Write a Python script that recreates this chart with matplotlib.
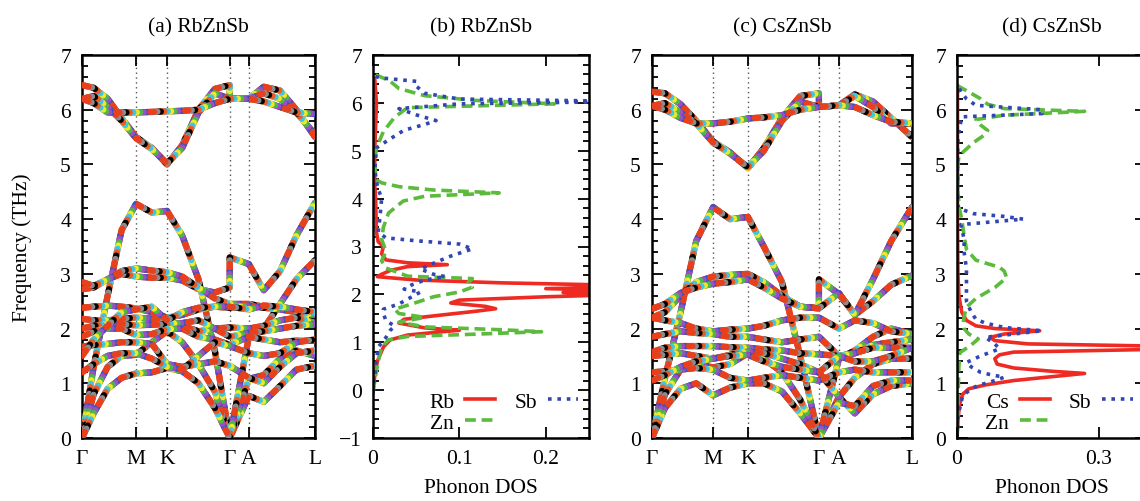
import numpy as np
import matplotlib.pyplot as plt
from matplotlib.ticker import MultipleLocator
from matplotlib.lines import Line2D

plt.rcParams['font.family'] = ['Liberation Serif', 'DejaVu Serif']
plt.rcParams['font.size'] = 15.5

# high-symmetry path
kpath_labels = ['Γ', 'M', 'K', 'Γ', 'A', 'L']
kpath_a = [0.0, 0.232, 0.365, 0.634, 0.716, 1.0]
kpath_c = [0.0, 0.235, 0.369, 0.642, 0.719, 1.0]

# sampled k positions (Γ listed twice: end of K-Γ, start of Γ-A)
k_a = [0.0, 0.05, 0.11, 0.17, 0.232, 0.30, 0.365, 0.43, 0.50, 0.57, 0.634, 0.634, 0.716, 0.78, 0.85, 0.92, 1.0]
k_c = [0.0, 0.05, 0.11, 0.17, 0.235, 0.30, 0.369, 0.43, 0.50, 0.57, 0.642, 0.642, 0.719, 0.78, 0.85, 0.92, 1.0]

# (a) RbZnSb phonon bands (THz)
bands_a = [
    [6.45, 6.40, 6.20, 5.85, 5.50, 5.30, 5.00, 5.35, 6.00, 6.38, 6.45, 6.20, 6.20, 6.42, 6.35, 6.00, 5.50],
    [6.20, 6.25, 6.05, 5.80, 5.48, 5.28, 5.02, 5.30, 5.95, 6.30, 6.20, 6.20, 6.20, 6.30, 6.20, 5.95, 5.55],
    [6.20, 6.12, 5.95, 5.95, 5.95, 5.96, 5.97, 5.98, 6.00, 6.12, 6.20, 6.20, 6.20, 6.15, 6.05, 5.95, 5.92],
    [0.00, 1.30, 2.60, 3.80, 4.28, 4.12, 4.15, 3.70, 2.90, 1.60, 0.00, 0.00, 0.77, 0.66, 0.95, 1.25, 1.32],
    [0.00, 0.80, 1.30, 1.50, 1.52, 1.75, 1.95, 1.75, 1.35, 0.85, 0.00, 0.00, 1.08, 1.15, 1.45, 1.60, 1.50],
    [0.00, 0.45, 0.90, 1.10, 1.18, 1.20, 1.28, 1.22, 1.00, 0.55, 0.00, 0.00, 1.85, 2.00, 2.45, 2.90, 3.25],
    [2.72, 2.75, 2.90, 3.00, 2.95, 2.93, 2.93, 2.88, 2.72, 2.66, 2.75, 3.30, 3.18, 2.70, 3.05, 3.70, 4.30],
    [2.85, 2.78, 2.90, 3.05, 3.10, 3.06, 3.03, 2.95, 2.75, 2.55, 2.45, 2.45, 2.45, 2.40, 2.38, 2.32, 2.27],
    [2.38, 2.40, 2.42, 2.40, 2.37, 2.30, 2.20, 2.25, 2.35, 2.40, 2.38, 2.38, 2.42, 2.38, 2.35, 2.30, 2.25],
    [2.18, 2.15, 2.15, 2.18, 2.20, 2.18, 2.15, 2.05, 1.95, 2.00, 2.02, 2.02, 2.00, 2.05, 2.15, 2.20, 2.10],
    [2.00, 2.05, 2.08, 2.08, 2.06, 2.07, 2.08, 2.10, 2.15, 2.00, 1.85, 1.85, 1.92, 1.95, 2.00, 2.05, 2.08],
    [1.85, 1.95, 2.00, 2.00, 1.88, 1.90, 1.99, 2.00, 1.85, 1.80, 1.70, 1.70, 1.85, 1.80, 1.75, 1.78, 1.78],
    [1.67, 1.70, 1.72, 1.75, 1.75, 1.72, 1.35, 1.30, 1.35, 1.40, 1.32, 1.32, 1.10, 1.00, 1.30, 1.55, 1.60],
    [1.20, 1.35, 1.50, 1.55, 1.55, 1.45, 1.30, 1.25, 1.50, 1.75, 1.68, 1.68, 1.55, 1.50, 1.55, 1.75, 1.80],
    [1.50, 1.80, 2.05, 2.30, 2.35, 2.40, 2.15, 2.30, 2.38, 2.40, 2.40, 2.40, 2.35, 2.42, 2.40, 2.35, 2.30],
]

# (c) CsZnSb phonon bands (THz)
bands_c = [
    [6.33, 6.30, 6.10, 5.80, 5.42, 5.22, 4.93, 5.30, 5.85, 6.25, 6.30, 6.05, 6.08, 6.28, 6.15, 5.85, 5.50],
    [6.07, 6.12, 5.95, 5.75, 5.40, 5.20, 4.95, 5.25, 5.80, 6.15, 6.05, 6.05, 6.08, 6.25, 6.05, 5.75, 5.75],
    [6.07, 6.00, 5.85, 5.75, 5.75, 5.78, 5.84, 5.86, 5.90, 6.00, 6.05, 6.05, 6.08, 6.05, 5.90, 5.78, 5.75],
    [0.00, 1.10, 2.30, 3.60, 4.22, 4.00, 4.04, 3.50, 2.85, 1.50, 0.00, 0.00, 0.75, 0.45, 0.80, 0.95, 1.00],
    [0.00, 0.55, 0.90, 1.00, 0.78, 0.92, 1.00, 1.00, 0.85, 0.45, 0.00, 0.00, 0.65, 0.58, 0.95, 1.05, 1.05],
    [0.00, 0.80, 1.25, 1.35, 1.29, 1.35, 1.55, 1.45, 1.20, 0.70, 0.00, 0.00, 1.45, 1.60, 1.85, 2.00, 1.90],
    [2.20, 2.30, 2.60, 2.85, 2.95, 2.98, 3.00, 2.85, 2.60, 2.40, 2.37, 2.90, 2.63, 2.25, 2.50, 2.80, 2.97],
    [2.36, 2.45, 2.65, 2.75, 2.82, 2.85, 2.90, 2.75, 2.55, 2.40, 2.37, 2.37, 2.65, 2.25, 2.90, 3.60, 4.22],
    [2.20, 2.15, 2.10, 2.00, 1.95, 1.98, 2.00, 2.05, 2.15, 2.20, 2.20, 2.20, 2.00, 2.15, 2.10, 1.95, 1.90],
    [1.85, 1.90, 1.95, 1.92, 1.90, 1.85, 1.85, 1.80, 1.75, 1.80, 1.85, 1.85, 1.50, 1.55, 1.70, 1.75, 1.80],
    [1.57, 1.65, 1.68, 1.68, 1.68, 1.66, 1.65, 1.62, 1.60, 1.55, 1.53, 1.53, 1.50, 1.55, 1.65, 1.65, 1.65],
    [1.50, 1.52, 1.55, 1.50, 1.45, 1.52, 1.58, 1.55, 1.45, 1.35, 1.20, 1.20, 0.75, 1.10, 1.35, 1.45, 1.45],
    [1.20, 1.22, 1.25, 1.28, 1.25, 1.10, 1.05, 1.10, 1.15, 1.10, 1.05, 1.05, 1.20, 1.25, 1.20, 1.20, 1.20],
    [1.05, 1.15, 1.30, 1.40, 1.45, 1.50, 1.52, 1.40, 1.30, 1.25, 1.20, 1.20, 1.50, 1.40, 1.40, 1.50, 1.65],
]

# (b) RbZnSb partial phonon DOS: frequency (THz), DOS
rb_f = [-0.05, 0.3, 0.6, 0.9, 1.05, 1.15, 1.22, 1.25, 1.30, 1.40, 1.48, 1.55, 1.65, 1.70, 1.75, 1.82, 1.88,
        1.95, 2.00, 2.04, 2.08, 2.12, 2.16, 2.20, 2.24, 2.30, 2.37, 2.42, 2.50, 2.58, 2.62, 2.66, 2.72, 2.85,
        3.00, 3.10, 3.30, 4.00, 4.30, 5.00, 5.50, 6.00, 6.50, 6.55]
rb_d = [0, 0.002, 0.005, 0.012, 0.02, 0.04, 0.08, 0.10, 0.06, 0.03, 0.036, 0.07, 0.12, 0.142, 0.13, 0.09, 0.10,
        0.2, 0.3, 0.22, 0.3, 0.2, 0.3, 0.26, 0.15, 0.05, 0.005, 0.01, 0.02, 0.04, 0.086, 0.04, 0.015, 0.01,
        0.012, 0.006, 0.004, 0.003, 0.002, 0.002, 0.003, 0.004, 0.002, 0]
zn_b_f = [-0.05, 0.3, 0.6, 0.9, 1.05, 1.12, 1.17, 1.22, 1.26, 1.32, 1.42, 1.52, 1.60, 1.69, 1.80, 1.95, 2.05,
          2.15, 2.25, 2.33, 2.38, 2.45, 2.55, 2.70, 2.90, 3.15, 3.40, 3.70, 3.95, 4.05, 4.12, 4.18, 4.25, 4.33,
          4.40, 4.80, 5.06, 5.40, 5.70, 5.90, 5.98, 6.05, 6.15, 6.30, 6.45, 6.55, 6.60]
zn_b_d = [0, 0.003, 0.006, 0.01, 0.018, 0.04, 0.12, 0.195, 0.15, 0.06, 0.03, 0.06, 0.03, 0.025, 0.045, 0.07, 0.1,
          0.115, 0.11, 0.115, 0.04, 0.03, 0.015, 0.01, 0.015, 0.01, 0.012, 0.018, 0.035, 0.06, 0.146, 0.07, 0.03, 0.01,
          0.003, 0.002, 0.004, 0.012, 0.025, 0.04, 0.21, 0.12, 0.06, 0.03, 0.02, 0.008, 0]
sb_b_f = [-0.05, 0.3, 0.6, 0.9, 1.10, 1.25, 1.34, 1.45, 1.60, 1.69, 1.80, 1.95, 2.05, 2.11, 2.20, 2.30, 2.37,
          2.42, 2.53, 2.65, 2.80, 2.95, 3.05, 3.12, 3.18, 3.30, 3.60, 4.00, 4.26, 4.60, 5.06, 5.25, 5.43, 5.55,
          5.63, 5.75, 5.88, 5.98, 6.03, 6.08, 6.20, 6.35, 6.45, 6.52, 6.56]
sb_b_d = [0, 0.002, 0.004, 0.006, 0.015, 0.02, 0.025, 0.015, 0.012, 0.012, 0.03, 0.045, 0.055, 0.036, 0.045, 0.06, 0.084,
          0.07, 0.055, 0.07, 0.09, 0.115, 0.1, 0.05, 0.015, 0.006, 0.008, 0.01, 0.005, 0.002, 0.004, 0.02, 0.036, 0.06,
          0.073, 0.05, 0.03, 0.1, 0.3, 0.1, 0.06, 0.05, 0.05, 0.01, 0]

# (d) CsZnSb partial phonon DOS
cs_f = [0, 0.3, 0.6, 0.8, 0.9, 0.97, 1.05, 1.12, 1.18, 1.22, 1.28, 1.35, 1.45, 1.52, 1.57, 1.62, 1.68, 1.72,
        1.78, 1.84, 1.90, 1.96, 2.00, 2.05, 2.15, 2.30, 2.60, 3.00, 4.00, 5.00, 6.00, 6.42, 6.45]
cs_d = [0, 0.002, 0.005, 0.012, 0.025, 0.06, 0.12, 0.2, 0.27, 0.2, 0.12, 0.085, 0.08, 0.09, 0.12, 0.42, 0.42, 0.15,
        0.08, 0.07, 0.1, 0.175, 0.08, 0.04, 0.02, 0.01, 0.004, 0.002, 0.001, 0.001, 0.001, 0.001, 0]
zn_d_f = [0, 0.5, 1.0, 1.3, 1.56, 1.70, 1.81, 1.90, 2.00, 2.11, 2.25, 2.39, 2.55, 2.75, 2.93, 3.05, 3.12, 3.25,
          3.45, 3.70, 4.00, 4.20, 4.50, 5.00, 5.16, 5.22, 5.40, 5.55, 5.62, 5.72, 5.82, 5.90, 5.97, 6.02, 6.10,
          6.20, 6.30, 6.42, 6.45]
zn_d_d = [0, 0.002, 0.003, 0.004, 0.006, 0.03, 0.045, 0.025, 0.015, 0.013, 0.016, 0.02, 0.04, 0.08, 0.105, 0.1, 0.09,
          0.04, 0.02, 0.015, 0.01, 0.005, 0.002, 0.002, 0.004, 0.012, 0.035, 0.06, 0.065, 0.05, 0.04, 0.1, 0.27, 0.1,
          0.065, 0.05, 0.03, 0.005, 0]
sb_d_f = [0, 0.4, 0.77, 0.9, 0.96, 1.05, 1.11, 1.16, 1.20, 1.30, 1.38, 1.50, 1.63, 1.72, 1.84, 1.90, 1.96, 2.02,
          2.10, 2.17, 2.30, 2.50, 2.80, 3.10, 3.40, 3.64, 3.90, 4.00, 4.05, 4.10, 4.20, 4.50, 5.00, 5.50, 5.87,
          5.93, 6.00, 6.08, 6.20, 6.30, 6.42, 6.45]
sb_d_d = [0, 0.002, 0.012, 0.03, 0.045, 0.08, 0.1, 0.07, 0.05, 0.03, 0.02, 0.05, 0.09, 0.08, 0.06, 0.12, 0.18, 0.1,
          0.06, 0.04, 0.03, 0.02, 0.02, 0.02, 0.015, 0.015, 0.008, 0.14, 0.1, 0.035, 0.003, 0.001, 0.001, 0.002, 0.01,
          0.18, 0.18, 0.04, 0.02, 0.01, 0.003, 0]

# dot colours cycled along each band
band_colors = ['#e8401c', '#3a52c4', '#9b4fc6', '#4cb848', '#f0e82a', '#3fc4e4', '#ee5a24',
               'black', '#8c8c8c', '#e8401c']
c_red, c_green, c_blue = '#ee2a22', '#5cba3c', '#3146b4'


def style_axes(ax):
    for s in ax.spines.values():
        s.set_linewidth(1.8)
    ax.tick_params(which='both', direction='in', top=True, right=True, width=1.3)
    ax.tick_params(which='major', length=8, pad=8)
    ax.tick_params(which='minor', length=4)
    ax.yaxis.set_major_locator(MultipleLocator(1))
    ax.yaxis.set_minor_locator(MultipleLocator(0.2))


def draw_bands(ax, k, bands, kpath, title):
    for x in kpath[1:-1]:
        ax.axvline(x, color='#555555', ls=(0, (1, 2.5)), lw=1, zorder=1)
    n = len(band_colors)
    s = 0.55
    for b in bands:
        ax.plot(k, b, color='#e8401c', lw=4.5, solid_joinstyle='round', solid_capstyle='round', zorder=2)
        for i, c in enumerate(band_colors):
            ax.plot(k, b, color=c, lw=4.5, ls=(i * s, (s, (n - 1) * s)),
                    dash_capstyle='round', dash_joinstyle='round', zorder=3)
    ax.set_xlim(0, 1)
    ax.set_ylim(0, 7)
    ax.set_xticks(kpath)
    ax.set_xticklabels(kpath_labels)
    style_axes(ax)
    ax.set_title(title, pad=17, fontsize=15.5)


def draw_dos(ax, curves, names, xlim, xticks, ylim, title, legend_x):
    handles = []
    styles = [(c_red, '-'), (c_green, (0, (3, 1.6))), (c_blue, (0, (1, 1.6)))]
    for (f, d), (col, ls), nm in zip(curves, styles, names):
        ax.plot(d, f, color=col, ls=ls, lw=2.6)
        handles.append(Line2D([], [], color=col, ls=ls, lw=2.6, label=nm))
    ax.set_xlim(*xlim)
    ax.set_ylim(*ylim)
    ax.set_xticks(xticks)
    ax.set_xticklabels(['0' if t == 0 else f'{t:g}' for t in xticks])
    style_axes(ax)
    ax.set_title(title, pad=17, fontsize=15.5)
    ax.set_xlabel('Phonon DOS', labelpad=7)
    ax.legend(handles=handles, ncol=2, markerfirst=False, frameon=False, loc='lower left',
              bbox_to_anchor=(legend_x, -0.02), handlelength=1.4, handletextpad=0.5,
              columnspacing=0.9, labelspacing=0.05, borderaxespad=0.2)


fig = plt.figure(figsize=(11.4, 5.02), dpi=100)
ax_a = fig.add_axes([82 / 1140, 63 / 502, 233 / 1140, 383 / 502])
ax_b = fig.add_axes([373 / 1140, 63 / 502, 216 / 1140, 383 / 502])
ax_c = fig.add_axes([652 / 1140, 63 / 502, 260 / 1140, 383 / 502])
ax_d = fig.add_axes([957 / 1140, 63 / 502, 189 / 1140, 383 / 502])

draw_bands(ax_a, k_a, bands_a, kpath_a, '(a) RbZnSb')
ax_a.set_ylabel('Frequency (THz)', labelpad=20)
draw_bands(ax_c, k_c, bands_c, kpath_c, '(c) CsZnSb')

draw_dos(ax_b, [(rb_f, rb_d), (zn_b_f, zn_b_d), (sb_b_f, sb_b_d)], ['Rb', 'Zn', 'Sb'],
         (0, 0.25), [0, 0.1, 0.2], (-1, 7), '(b) RbZnSb', 0.2)
draw_dos(ax_d, [(cs_f, cs_d), (zn_d_f, zn_d_d), (sb_d_f, sb_d_d)], ['Cs', 'Zn', 'Sb'],
         (0, 0.4), [0, 0.3], (0, 7), '(d) CsZnSb', 0.08)

fig.savefig('out.png', dpi=100)
